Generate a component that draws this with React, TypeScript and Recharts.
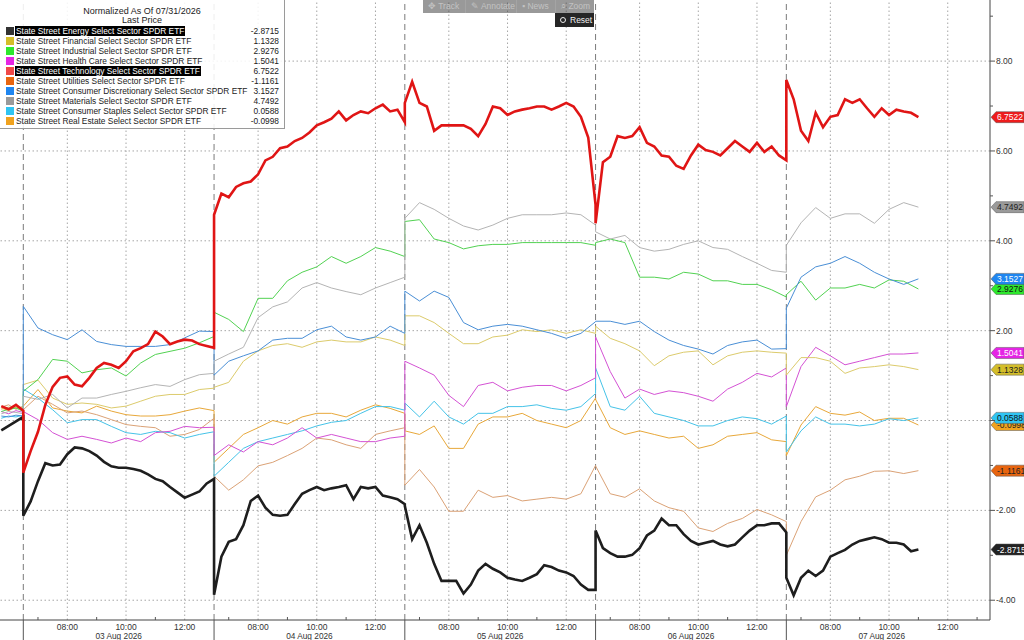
import React from 'react';
import { LineChart, Line, XAxis, YAxis, ReferenceLine, ReferenceDot } from 'recharts';

const CHART_W = 1024;
const CHART_H = 640;
const Y_AXIS_W = 34;
const X_AXIS_H = 20;
const PLOT_RIGHT = CHART_W - Y_AXIS_W;

// each session is 06:30-13:00 and the days are stacked edge to edge (hours since 03 Aug open)
const SESSION = 6.5;
const DAYS = ['03 Aug 2026', '04 Aug 2026', '05 Aug 2026', '06 Aug 2026', '07 Aug 2026'];
const LAST_DAY_HOURS = 4.5; // feed stops around 11:00 on the 7th
const PRE_SLOTS = [-0.75, -0.5, -0.25, 0]; // tail of 31 Jul
const HOUR_MARKS = [
  { h: 0.5, label: '' },
  { h: 1.5, label: '08:00' },
  { h: 2.5, label: '' },
  { h: 3.5, label: '10:00' },
  { h: 4.5, label: '' },
  { h: 5.5, label: '12:00' },
];
const Y_TICKS = [-4, -3, -2, -1, 0, 1, 2, 3, 4, 5, 6, 7, 8, 9];
const Y_GRID = [-4, -2, 0, 2, 4, 6, 8];

const X_DOMAIN: [number, number] = [-0.794, 32.94];
const Y_DOMAIN: [number, number] = [-4.44, 9.36];

function buildSlots(step: number) {
  const out = [...PRE_SLOTS];
  DAYS.forEach((_, d) => {
    const hours = d === DAYS.length - 1 ? LAST_DAY_HOURS : SESSION;
    for (let h = 0; h <= hours + 1e-9; h += step) out.push(d * SESSION + h);
  });
  return out;
}
const SLOTS_15 = buildSlots(0.25);
const SLOTS_30 = buildSlots(0.5);

// thick (selected) series, 15 minute bars
const energy = [
  -0.22, -0.12, -0.02, 0.08,
  -2.12, -1.8, -1.35, -0.95, -1.0, -0.98, -0.75, -0.6, -0.62, -0.68, -0.78, -0.92, -1.02, -1.05, -1.05, -1.08, -1.12, -1.2, -1.3, -1.35, -1.48, -1.6, -1.72, -1.65, -1.58, -1.4, -1.3,
  -3.88, -3.03, -2.7, -2.64, -2.33, -1.79, -1.67, -1.94, -2.1, -2.12, -2.1, -1.86, -1.63, -1.55, -1.48, -1.55, -1.51, -1.48, -1.44, -1.75, -1.48, -1.51, -1.48, -1.67, -1.71, -1.75, -1.86,
  -1.9, -2.64, -2.33, -2.72, -3.19, -3.57, -3.57, -3.57, -3.85, -3.65, -3.34, -3.19, -3.3, -3.38, -3.5, -3.54, -3.57, -3.5, -3.42, -3.22, -3.26, -3.34, -3.38, -3.46, -3.65, -3.77, -3.77,
  -2.45, -2.84, -2.95, -3.03, -3.03, -2.99, -2.84, -2.56, -2.45, -2.18, -2.33, -2.33, -2.53, -2.68, -2.76, -2.72, -2.68, -2.76, -2.8, -2.76, -2.6, -2.45, -2.33, -2.33, -2.29, -2.29, -2.49,
  -3.5, -3.89, -3.5, -3.34, -3.46, -3.34, -3.03, -2.95, -2.88, -2.76, -2.68, -2.64, -2.6, -2.64, -2.72, -2.72, -2.76, -2.91, -2.8715,
];
const technology = [
  0.32, 0.25, 0.35, 0.22,
  -1.16, -0.68, -0.25, 0.35, 0.75, 0.95, 0.98, 0.8, 0.76, 0.95, 1.17, 1.28, 1.24, 1.17, 1.32, 1.54, 1.61, 1.7, 1.98, 1.87, 1.7, 1.76, 1.8, 1.78, 1.7, 1.66, 1.62,
  4.58, 5.05, 4.97, 5.2, 5.28, 5.32, 5.48, 5.79, 5.87, 6.06, 6.1, 6.22, 6.29, 6.41, 6.57, 6.64, 6.72, 6.88, 6.68, 6.8, 6.88, 6.84, 6.95, 7.03, 6.88, 6.92, 6.64,
  7.07, 7.54, 7.07, 6.99, 6.45, 6.57, 6.57, 6.57, 6.57, 6.49, 6.33, 6.6, 6.99, 6.95, 6.8, 6.88, 6.92, 6.95, 6.99, 6.99, 6.92, 6.99, 7.07, 6.99, 6.76, 6.3, 4.8,
  4.39, 5.75, 5.87, 6.33, 6.29, 6.33, 6.53, 6.18, 6.1, 5.9, 5.87, 5.67, 5.6, 5.9, 6.14, 6.02, 5.98, 5.9, 6.06, 6.22, 6.1, 5.98, 6.18, 5.98, 6.1, 5.9, 5.79,
  7.58, 7.15, 6.45, 6.22, 6.85, 6.53, 6.76, 6.8, 7.15, 7.07, 7.15, 6.95, 6.76, 6.95, 6.8, 6.92, 6.88, 6.85, 6.7522,
];

// thin series, 30 minute bars
const financial = [
  0.25, 0.3, 0.27, 0.3,
  0.8, 0.9, 0.5, 0.36, 0.39, 0.36, 0.28, 0.32, 0.43, 0.54, 0.58, 0.58, 0.69, 0.72,
  0.74, 0.85, 1.32, 1.55, 1.67, 1.71, 1.63, 1.75, 1.79, 1.75, 1.75, 1.86, 1.79, 1.67,
  2.33, 2.33, 2.18, 1.94, 1.71, 1.71, 1.86, 1.9, 2.02, 1.98, 2.02, 1.94, 2.02, 1.94,
  2.1, 1.83, 1.71, 1.55, 1.22, 1.44, 1.52, 1.55, 1.24, 1.44, 1.52, 1.55, 1.52, 1.5,
  1.01, 1.4, 1.4, 1.32, 1.05, 1.17, 1.2, 1.24, 1.2, 1.1328,
];
const industrial = [
  0.2, 0.25, 0.28, 0.2,
  0.65, 0.91, 1.36, 1.32, 1.06, 1.13, 1.17, 0.99, 1.28, 1.47, 1.54, 1.61, 1.73, 1.87,
  2.41, 2.25, 1.98, 2.72, 2.72, 3.11, 3.3, 3.42, 3.65, 3.5, 3.65, 3.85, 3.77, 3.65,
  4.43, 4.47, 4.04, 3.96, 3.82, 3.89, 3.92, 3.92, 3.96, 3.96, 3.96, 3.96, 3.96, 3.9,
  3.96, 4.04, 3.96, 3.19, 3.19, 3.15, 3.3, 3.26, 3.11, 3.11, 3.03, 3.03, 2.91, 2.75,
  2.8, 3.1, 2.68, 2.95, 2.95, 3.03, 2.95, 3.13, 3.1, 2.9276,
];
const healthCare = [
  0.2, 0.15, 0.22, 0.18,
  0.2, 0.02, -0.27, -0.42, -0.35, -0.42, -0.5, -0.39, -0.47, -0.27, -0.24, -0.13, -0.16, -0.15,
  -0.78, -0.54, -0.7, -0.47, -0.54, -0.39, -0.16, -0.39, -0.31, -0.39, -0.47, -0.47, -0.39, -0.35,
  1.32, 1.17, 1.01, 0.56, 0.31, 0.78, 0.85, 0.66, 0.74, 0.78, 0.78, 0.66, 0.78, 0.95,
  1.86, 1.09, 0.5, 0.7, 0.58, 0.66, 0.62, 0.54, 0.43, 0.7, 0.85, 1.05, 0.97, 1.17,
  0.31, 1.2, 1.63, 1.44, 1.24, 1.32, 1.4, 1.48, 1.48, 1.5041,
];
const utilities = [
  0.3, 0.35, 0.25, 0.32,
  0.24, 0.54, 0.36, 0.17, 0.21, 0.13, 0.02, -0.09, -0.13, -0.16, -0.35, -0.31, -0.2, 0.05,
  -1.24, -1.55, -1.32, -1.01, -0.93, -0.78, -0.62, -0.39, -0.43, -0.54, -0.62, -0.31, -0.23, -0.16,
  -1.44, -1.09, -1.48, -2.02, -2.02, -1.55, -1.71, -1.67, -1.79, -1.75, -1.71, -1.75, -1.63, -1.0,
  -1.01, -1.63, -1.71, -1.52, -1.79, -1.94, -2.02, -2.39, -2.47, -2.29, -2.18, -1.98, -2.1, -2.25,
  -3.0, -2.25, -1.7, -1.55, -1.32, -1.24, -1.13, -1.12, -1.18, -1.1161,
];
const consumerDisc = [
  0.1, 0.08, 0.12, 0.1,
  2.54, 2.06, 1.91, 1.8, 2.02, 1.76, 1.69, 1.65, 1.65, 1.65, 1.69, 1.84, 1.99, 1.98,
  1.01, 1.32, 1.44, 1.55, 1.79, 1.83, 1.83, 2.02, 2.1, 1.86, 1.79, 1.86, 2.1, 1.94,
  2.88, 2.66, 2.88, 2.74, 2.18, 2.02, 2.1, 2.14, 2.1, 2.02, 1.94, 1.83, 1.94, 2.2,
  2.21, 2.21, 2.14, 2.21, 1.98, 1.79, 1.67, 1.59, 1.48, 1.67, 1.75, 1.79, 1.59, 1.6,
  2.5, 3.19, 3.42, 3.5, 3.65, 3.5, 3.3, 3.15, 3.03, 3.1527,
];
const materials = [
  0.15, 0.2, 0.18, 0.15,
  0.54, 0.47, 0.58, 0.28, 0.5, 0.5, 0.58, 0.65, 0.73, 0.8, 0.76, 0.91, 1.02, 1.05,
  1.32, 1.48, 1.63, 2.29, 2.53, 2.64, 2.95, 3.07, 2.95, 2.87, 2.8, 2.95, 3.07, 3.19,
  4.5, 4.85, 4.7, 4.5, 4.33, 4.24, 4.35, 4.5, 4.58, 4.58, 4.58, 4.62, 4.58, 4.35,
  4.2, 4.04, 4.12, 3.85, 3.77, 3.81, 3.92, 4.0, 3.85, 3.81, 3.65, 3.5, 3.34, 3.3,
  3.9, 4.4, 4.74, 4.5, 4.6, 4.6, 4.39, 4.7, 4.85, 4.7492,
];
const staples = [
  0.05, 0.1, 0.08, 0.12,
  0.7, 0.5, 0.24, -0.05, 0.02, 0.02, -0.13, -0.27, -0.31, -0.24, -0.27, -0.39, -0.31, -0.25,
  -1.24, -0.93, -0.62, -0.47, -0.39, -0.31, -0.23, -0.12, -0.04, 0.0, 0.16, 0.31, 0.31, 0.23,
  0.39, 0.08, 0.43, 0.08, -0.08, 0.16, 0.16, 0.31, 0.31, 0.35, 0.27, 0.23, 0.31, 0.6,
  1.17, 0.31, 0.23, 0.54, 0.16, 0.08, 0.0, -0.12, -0.12, 0.0, 0.08, 0.04, -0.08, 0.1,
  -0.7, -0.23, 0.08, -0.08, -0.08, -0.12, -0.08, 0.04, 0.0, 0.0588,
];
const realEstate = [
  0.28, 0.22, 0.3, 0.25,
  0.32, 0.69, 0.28, 0.21, 0.17, 0.32, 0.21, 0.13, 0.1, 0.1, 0.13, 0.21, 0.28, 0.22,
  -0.93, -0.62, -0.31, -0.16, 0.0, -0.08, 0.08, 0.16, 0.16, 0.08, 0.23, 0.35, 0.27, 0.16,
  -0.23, -0.31, -0.12, -0.62, -0.62, -0.08, 0.08, 0.08, 0.16, 0.0, -0.08, -0.16, 0.0, 0.5,
  0.47, -0.16, -0.31, -0.23, -0.31, -0.39, -0.35, -0.62, -0.54, -0.35, -0.31, -0.27, -0.43, -0.47,
  -0.78, -0.1, 0.31, 0.16, 0.12, 0.19, 0.0, 0.05, 0.05, -0.0998,
];

type Series = {
  key: string;
  name: string;
  last: string;
  values: number[];
  slots: number[];
  line: string;
  tag: string;
  tagText: string;
  width: number;
  selected?: boolean;
};

const SERIES: Series[] = [
  { key: 'energy', name: 'State Street Energy Select Sector SPDR ETF', last: '-2.8715', values: energy, slots: SLOTS_15, line: '#1e1e1e', tag: '#222', tagText: '#fff', width: 2.6, selected: true },
  { key: 'financial', name: 'State Street Financial Select Sector SPDR ETF', last: '1.1328', values: financial, slots: SLOTS_30, line: '#dccb6c', tag: '#d4be2a', tagText: '#222', width: 1 },
  { key: 'industrial', name: 'State Street Industrial Select Sector SPDR ETF', last: '2.9276', values: industrial, slots: SLOTS_30, line: '#52d252', tag: '#2ee82e', tagText: '#111', width: 1 },
  { key: 'health', name: 'State Street Health Care Select Sector SPDR ETF', last: '1.5041', values: healthCare, slots: SLOTS_30, line: '#d452d4', tag: '#e524e5', tagText: '#fff', width: 1 },
  { key: 'technology', name: 'State Street Technology Select Sector SPDR ETF', last: '6.7522', values: technology, slots: SLOTS_15, line: '#e01515', tag: '#ee1c1c', tagText: '#fff', width: 2.6, selected: true },
  { key: 'utilities', name: 'State Street Utilities Select Sector SPDR ETF', last: '-1.1161', values: utilities, slots: SLOTS_30, line: '#dba276', tag: '#e8650f', tagText: '#222', width: 1 },
  { key: 'consDisc', name: 'State Street Consumer Discretionary Select Sector SPDR ETF', last: '3.1527', values: consumerDisc, slots: SLOTS_30, line: '#4a8fd6', tag: '#1f86f0', tagText: '#fff', width: 1 },
  { key: 'materials', name: 'State Street Materials Select Sector SPDR ETF', last: '4.7492', values: materials, slots: SLOTS_30, line: '#b4b4b4', tag: '#9a9a9a', tagText: '#222', width: 1 },
  { key: 'staples', name: 'State Street Consumer Staples Select Sector SPDR ETF', last: '0.0588', values: staples, slots: SLOTS_30, line: '#45c3e8', tag: '#2fc4f2', tagText: '#111', width: 1 },
  { key: 'realEstate', name: 'State Street Real Estate Select Sector SPDR ETF', last: '-0.0998', values: realEstate, slots: SLOTS_30, line: '#e8a83a', tag: '#f0a21e', tagText: '#222', width: 1 },
];

const LEGEND_SWATCH: Record<string, string> = {
  energy: '#333', financial: '#d4be2a', industrial: '#2ee82e', health: '#e524e5', technology: '#f04848',
  utilities: '#e8650f', consDisc: '#1f86f0', materials: '#9a9a9a', staples: '#2fc4f2', realEstate: '#f0a21e',
};

// bottom-most first; the two selected lines sit on top
const DRAW_ORDER = ['realEstate', 'utilities', 'staples', 'health', 'financial', 'industrial', 'consDisc', 'materials', 'energy', 'technology'];

// x axis ticks: hour marks, day edges and a date under each session
type XTickInfo = { kind: 'major' | 'minor' | 'edge' | 'date'; text: string };
const X_TICK_INFO = new Map<number, XTickInfo>();
DAYS.forEach((day, d) => {
  const start = d * SESSION;
  X_TICK_INFO.set(start, { kind: 'edge', text: '' });
  X_TICK_INFO.set(start + 3.25, { kind: 'date', text: day });
  HOUR_MARKS.forEach((m) => X_TICK_INFO.set(start + m.h, { kind: m.label ? 'major' : 'minor', text: m.label }));
});
X_TICK_INFO.set(DAYS.length * SESSION, { kind: 'minor', text: '' });
const X_TICKS = Array.from(X_TICK_INFO.keys()).sort((a, b) => a - b);
const X_GRID = X_TICKS.filter((t) => X_TICK_INFO.get(t)!.kind === 'major');
const DAY_EDGES = X_TICKS.filter((t) => X_TICK_INFO.get(t)!.kind === 'edge');

const AXIS_FONT = '"Liberation Sans", Arial, sans-serif';

const renderXTick = (p: any) => {
  const info = X_TICK_INFO.get(p.payload.value);
  const x = p.x;
  const y = p.y;
  if (!info) return <g />;
  if (info.kind === 'edge') return <line x1={x} x2={x} y1={y} y2={y + 20} stroke="#555" strokeWidth={1} />;
  if (info.kind === 'minor') return <line x1={x} x2={x} y1={y - 3} y2={y} stroke="#555" strokeWidth={1} />;
  if (info.kind === 'date')
    return (
      <text x={x} y={y + 19} textAnchor="middle" fontSize={8.3} fill="#333" fontFamily={AXIS_FONT}>
        {info.text}
      </text>
    );
  return (
    <text x={x} y={y + 10} textAnchor="middle" fontSize={8.5} fill="#333" fontFamily={AXIS_FONT}>
      {info.text}
    </text>
  );
};

const renderYTick = (p: any) => {
  const v = p.payload.value;
  const x = p.x;
  const y = p.y;
  if (v % 2 !== 0) return <line x1={x} x2={x + 3} y1={y} y2={y} stroke="#555" />;
  return (
    <g>
      <line x1={x} x2={x + 5} y1={y} y2={y} stroke="#555" />
      {v !== 0 && (
        <text x={x + 6} y={y + 3} fontSize={8.5} fill="#333" fontFamily={AXIS_FONT}>
          {v.toFixed(2)}
        </text>
      )}
    </g>
  );
};

const makeTag = (s: Series) => (p: any) => {
  const y = p.cy;
  const x = PLOT_RIGHT + 1;
  return (
    <g>
      <polygon
        points={`${x},${y} ${x + 5},${y - 5.5} ${CHART_W},${y - 5.5} ${CHART_W},${y + 5.5} ${x + 5},${y + 5.5}`}
        fill={s.tag}
        stroke="#555"
        strokeWidth={0.5}
      />
      <text x={x + 6} y={y + 3} fontSize={8.5} fill={s.tagText} fontFamily={AXIS_FONT}>
        {s.last}
      </text>
    </g>
  );
};

function LegendBox() {
  return (
    <div
      style={{
        position: 'absolute',
        left: 0,
        top: 0,
        width: 285,
        height: 129,
        boxSizing: 'border-box',
        borderRight: '1px solid #9a9a9a',
        borderBottom: '1px solid #9a9a9a',
        background: 'rgba(255,255,255,0.87)',
        fontFamily: AXIS_FONT,
        fontSize: 8.35,
        lineHeight: '10px',
        color: '#222',
      }}
    >
      <div style={{ position: 'absolute', top: 6, left: 0, width: '100%', textAlign: 'center', fontSize: 9 }}>
        Normalized As Of 07/31/2026
      </div>
      <div style={{ position: 'absolute', top: 15, left: 0, width: '100%', textAlign: 'center', fontSize: 9 }}>Last Price</div>
      {SERIES.map((s, i) => (
        <div key={s.key} style={{ position: 'absolute', top: 25.7 + 10 * i, left: 0, width: '100%', height: 10 }}>
          <span style={{ position: 'absolute', left: 6, top: 1, width: 8, height: 8, background: LEGEND_SWATCH[s.key] }} />
          <span
            style={{
              position: 'absolute',
              left: 15,
              top: 0,
              padding: '0 1px',
              whiteSpace: 'nowrap',
              background: s.selected ? '#000' : 'transparent',
              color: s.selected ? '#fff' : '#222',
            }}
          >
            {s.name}
          </span>
          <span style={{ position: 'absolute', right: 5, top: 0 }}>{s.last}</span>
        </div>
      ))}
    </div>
  );
}

const TOOLS = [
  { icon: '✥', label: 'Track', w: 42 },
  { icon: '✎', label: 'Annotate', w: 51 },
  { icon: '▪', label: 'News', w: 39 },
  { icon: '⌕', label: 'Zoom', w: 39 },
];

function Toolbar() {
  return (
    <>
      <div
        style={{
          position: 'absolute',
          left: 423,
          top: 0,
          height: 13,
          display: 'flex',
          background: 'rgba(70,70,70,0.55)',
          fontFamily: AXIS_FONT,
          fontSize: 8.5,
          lineHeight: '13px',
          color: 'rgba(230,230,230,0.55)',
        }}
      >
        {TOOLS.map((t, i) => (
          <div
            key={t.label}
            style={{
              width: t.w,
              boxSizing: 'border-box',
              paddingLeft: 5,
              whiteSpace: 'nowrap',
              borderLeft: i ? '1px solid rgba(200,200,200,0.25)' : 'none',
            }}
          >
            {t.icon} {t.label}
          </div>
        ))}
      </div>
      <div
        style={{
          position: 'absolute',
          left: 555,
          top: 13,
          width: 39,
          height: 14,
          background: '#262626',
          color: '#eee',
          fontFamily: AXIS_FONT,
          fontSize: 8.5,
          lineHeight: '14px',
        }}
      >
        <span
          style={{
            position: 'absolute',
            left: 5,
            top: 4,
            width: 4,
            height: 4,
            borderRadius: 4,
            border: '1.5px solid #eee',
          }}
        />
        <span style={{ position: 'absolute', left: 15, top: 0 }}>Reset</span>
      </div>
    </>
  );
}

export default function App() {
  const ordered = DRAW_ORDER.map((k) => SERIES.find((s) => s.key === k)!);
  return (
    <div
      style={{
        position: 'absolute',
        left: 0,
        top: 0,
        width: CHART_W,
        height: CHART_H,
        overflow: 'hidden',
        background: '#fff',
      }}
    >
      <LineChart width={CHART_W} height={CHART_H} margin={{ top: 0, right: 0, bottom: 0, left: 0 }}>
        <XAxis
          dataKey="t"
          type="number"
          domain={X_DOMAIN}
          allowDataOverflow
          ticks={X_TICKS}
          interval={0}
          tickSize={0}
          tickMargin={0}
          tickLine={false}
          axisLine={{ stroke: '#444' }}
          height={X_AXIS_H}
          tick={renderXTick}
        />
        <YAxis
          orientation="right"
          type="number"
          domain={Y_DOMAIN}
          allowDataOverflow
          ticks={Y_TICKS}
          interval={0}
          width={Y_AXIS_W}
          tickSize={0}
          tickMargin={0}
          tickLine={false}
          axisLine={{ stroke: '#444' }}
          tick={renderYTick}
        />
        {Y_GRID.map((v) => (
          <ReferenceLine key={`gy${v}`} y={v} stroke="#a6a6a6" strokeDasharray="1.5 2.5" />
        ))}
        {X_GRID.map((t) => (
          <ReferenceLine key={`gx${t}`} x={t} stroke="#a6a6a6" strokeDasharray="1.5 2.5" />
        ))}
        {DAY_EDGES.map((t) => (
          <ReferenceLine key={`edge${t}`} x={t} stroke="#7a7a7a" strokeDasharray="6 4" />
        ))}
        {ordered.map((s) => (
          <Line
            key={s.key}
            data={s.values.map((v, i) => ({ t: s.slots[i], v }))}
            dataKey="v"
            type="linear"
            stroke={s.line}
            strokeWidth={s.width}
            dot={false}
            activeDot={false}
            isAnimationActive={false}
          />
        ))}
        {ordered.map((s) => (
          <ReferenceDot
            key={`tag-${s.key}`}
            x={s.slots[s.values.length - 1]}
            y={s.values[s.values.length - 1]}
            r={0}
            ifOverflow="visible"
            shape={makeTag(s)}
          />
        ))}
      </LineChart>
      <LegendBox />
      <Toolbar />
    </div>
  );
}
